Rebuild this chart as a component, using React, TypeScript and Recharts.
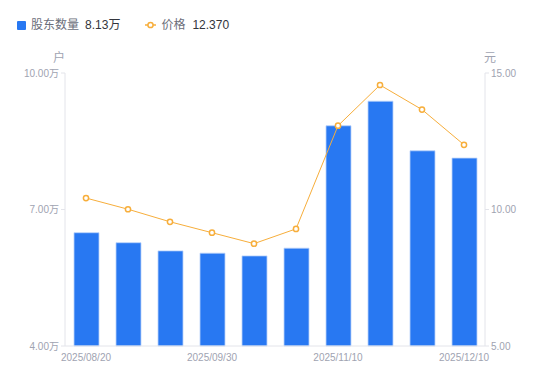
import { ComposedChart, Bar, Line, XAxis, YAxis } from "recharts";

const dates = [
  "2025/08/20",
  "2025/08/31",
  "2025/09/10",
  "2025/09/30",
  "2025/10/20",
  "2025/10/31",
  "2025/11/10",
  "2025/11/20",
  "2025/11/30",
  "2025/12/10",
];
const holders = [6.49, 6.27, 6.09, 6.04, 5.98, 6.15, 8.84, 9.38, 8.29, 8.13];
const prices = [10.42, 10.01, 9.55, 9.15, 8.75, 9.29, 13.07, 14.56, 13.66, 12.37];
const shownDates = ["2025/08/20", "2025/09/30", "2025/11/10", "2025/12/10"];
const holderTicks = [4, 7, 10];
const priceTicks = [5, 10, 15];

const FONT = "'Liberation Sans', Arial, 'Noto Sans CJK SC', sans-serif";
const COLORS = {
  bar: "#2878f2",
  line: "#f7ae3b",
  axis: "#e3e4ea",
  tick: "#a0a3b1",
  label: "#6b6e7a",
  value: "#33353c",
};

const data = dates.map((d, i) => ({
  date: d,
  holders: holders[i],
  price: prices[i],
}));

function LegendRow() {
  return (
    <div
      style={{
        position: "absolute",
        left: 17,
        top: 18,
        display: "flex",
        alignItems: "center",
        fontFamily: FONT,
        fontSize: 12,
        lineHeight: "14px",
      }}
    >
      <span
        style={{
          width: 9,
          height: 9,
          background: COLORS.bar,
          borderRadius: 1,
          marginRight: 5,
        }}
      />
      <span style={{ color: COLORS.label }}>股东数量</span>
      <span style={{ color: COLORS.value, marginLeft: 6 }}>
        {holders[holders.length - 1].toFixed(2)}万
      </span>
      <svg width={11} height={8} style={{ marginLeft: 25, marginRight: 5 }}>
        <line x1={0} y1={4} x2={11} y2={4} stroke={COLORS.line} strokeWidth={1.5} />
        <circle cx={5.5} cy={4} r={2.6} fill="#fff" stroke={COLORS.line} strokeWidth={1.5} />
      </svg>
      <span style={{ color: COLORS.label }}>价格</span>
      <span style={{ color: COLORS.value, marginLeft: 7 }}>
        {prices[prices.length - 1].toFixed(3)}
      </span>
    </div>
  );
}

export default function App() {
  const tickStyle = { fill: COLORS.tick, fontSize: 10, fontFamily: FONT };
  return (
    <div style={{ position: "absolute", left: 0, top: 0, width: 550, height: 381 }}>
      <ComposedChart
        width={550}
        height={381}
        data={data}
        margin={{ top: 73, right: 0, bottom: 15, left: 0 }}
        barCategoryGap={0}
      >
        <XAxis
          dataKey="date"
          stroke={COLORS.axis}
          tickLine={false}
          tick={tickStyle}
          ticks={shownDates}
          interval={0}
          height={20}
          tickMargin={2}
        />
        <YAxis
          yAxisId="left"
          orientation="left"
          domain={[4, 10]}
          ticks={holderTicks}
          width={65}
          stroke={COLORS.axis}
          tickSize={4}
          tick={tickStyle}
          tickFormatter={(v: number) => `${v.toFixed(2)}万`}
        />
        <YAxis
          yAxisId="right"
          orientation="right"
          domain={[5, 15]}
          ticks={priceTicks}
          width={65}
          stroke={COLORS.axis}
          tickSize={4}
          tick={tickStyle}
          tickFormatter={(v: number) => v.toFixed(2)}
        />
        <Bar
          yAxisId="left"
          dataKey="holders"
          fill={COLORS.bar}
          stroke="#b9d2fa"
          strokeWidth={0.8}
          barSize={25}
          isAnimationActive={false}
        />
        <Line
          yAxisId="right"
          dataKey="price"
          type="linear"
          stroke={COLORS.line}
          strokeWidth={1}
          dot={{ r: 2.6, fill: "#fff", stroke: COLORS.line, strokeWidth: 1.5 }}
          activeDot={false}
          isAnimationActive={false}
        />
      </ComposedChart>
      <LegendRow />
      <span
        style={{
          position: "absolute",
          left: 53,
          top: 48,
          fontSize: 12,
          color: COLORS.tick,
          fontFamily: FONT,
        }}
      >
        户
      </span>
      <span
        style={{
          position: "absolute",
          left: 484,
          top: 48,
          fontSize: 12,
          color: COLORS.tick,
          fontFamily: FONT,
        }}
      >
        元
      </span>
    </div>
  );
}
